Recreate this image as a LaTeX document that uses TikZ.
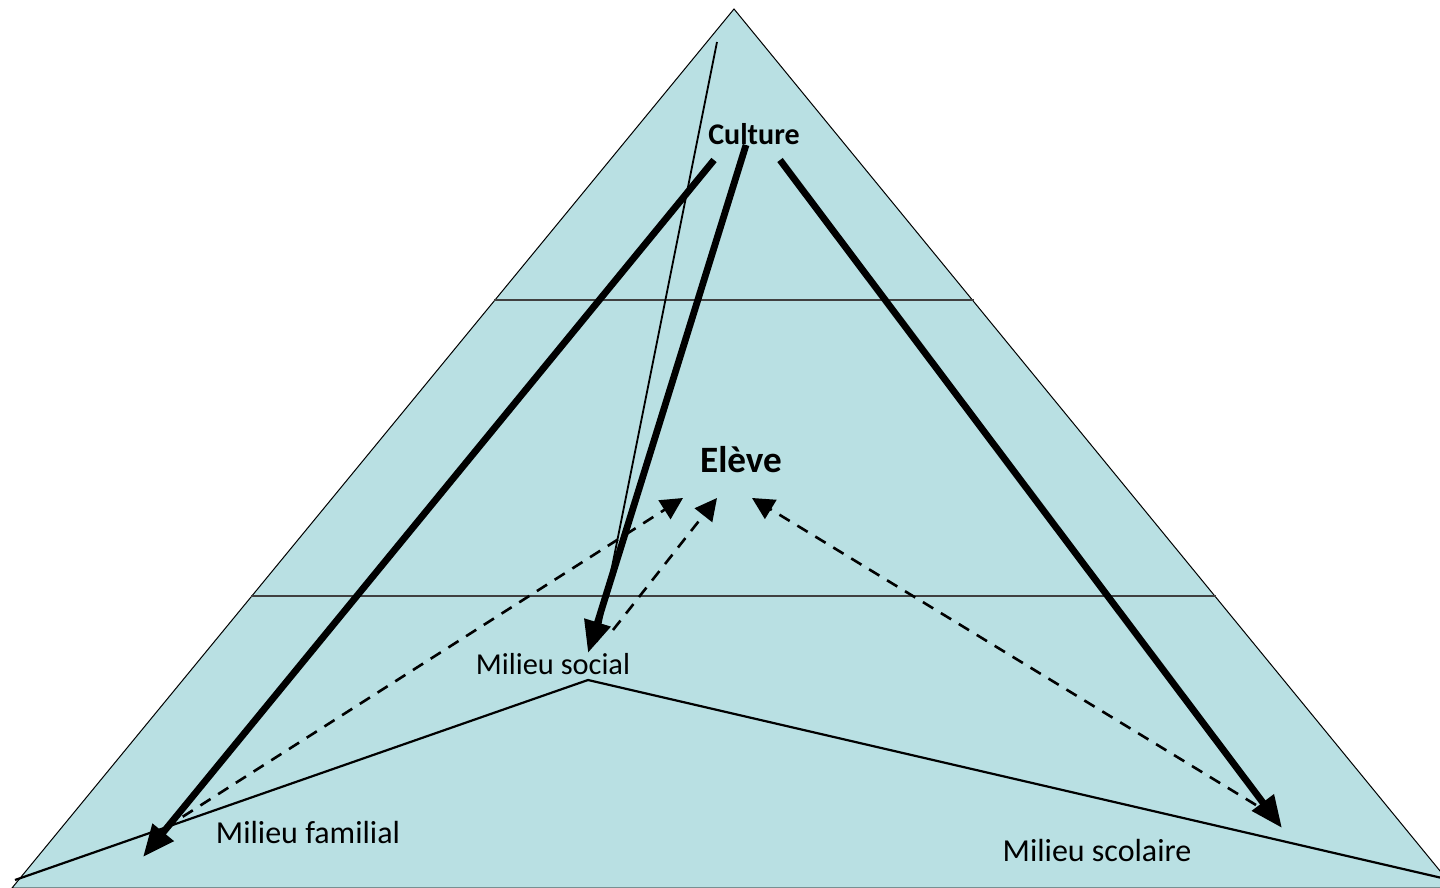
\documentclass[tikz,border=0pt]{standalone}
\usepackage{fontspec}
\setmainfont{Carlito}
\usetikzlibrary{arrows.meta}
\definecolor{pyr}{RGB}{185,224,227}
\tikzset{
  thickarrow/.style={line width=3.4pt,-{Triangle[length=16pt,width=13pt]}},
  dasharrow/.style={line width=1.3pt,dash pattern=on 6pt off 4.5pt,-{Triangle[length=11pt,width=11pt]}},
  label/.style={inner sep=0pt,anchor=center},
  levelline/.style={line width=1.2pt,draw=black!75},
}
\begin{document}
\begin{tikzpicture}[x=0.5pt,y=-0.5pt]
\useasboundingbox (0,0) rectangle (1440,888);
\begin{scope}
\clip (0,0) rectangle (1440,888);
\coordinate (apex) at (734,9);
\coordinate (bl) at (12,888);
\coordinate (br) at (1454,888);
\fill[pyr,draw=black,line width=0.5pt] (apex) -- (br) -- (bl) -- cycle;
% level lines
\draw[levelline] (494,300) -- (974,300);
\draw[levelline] (251,596) -- (1216,596);
% floor lines
\coordinate (fl) at (15,880);
\coordinate (fm) at (588,680);
\coordinate (fr) at (1442,878);
\draw[line width=1.1pt] (fl) -- (fm) -- (fr);
\end{scope}
% labels
\node[label,font=\bfseries\fontsize{15}{18}\selectfont] (culture) at (754,134) {Culture};
\node[label,font=\bfseries\fontsize{18.6}{22}\selectfont] (eleve) at (741,460) {Elève};
\node[label,font=\fontsize{15.2}{18}\selectfont] (social) at (553,664) {Milieu social};
\node[label,font=\fontsize{16}{19}\selectfont] (familial) at (308,832) {Milieu familial};
\node[label,font=\fontsize{16}{19}\selectfont] (scolaire) at (1097,850) {Milieu scolaire};
% endpoints
\coordinate (c1) at (714,160);
\coordinate (c2) at (746,145);
\coordinate (c3) at (780,160);
\coordinate (tf) at (143,857);
\coordinate (ts) at (588,653);
\coordinate (tsc) at (1282,828);
\coordinate (t0) at (717,42);
\coordinate (t1) at (597,642);
\coordinate (ea) at (683,498);
\coordinate (eb) at (717,498);
\coordinate (ec) at (752,498);
\coordinate (sa) at (165,828);
\coordinate (sb) at (613,630);
\coordinate (sc) at (1256,805);
% thin line
\draw[line width=0.9pt] (t0) -- (t1);
% thick arrows
\draw[thickarrow] (c1) -- (tf);
\draw[thickarrow] (c2) -- (ts);
\draw[thickarrow] (c3) -- (tsc);
% dashed arrows
\draw[dasharrow] (sa) -- (ea);
\draw[dasharrow] (sb) -- (eb);
\draw[dasharrow] (sc) -- (ec);
\end{tikzpicture}
\end{document}
